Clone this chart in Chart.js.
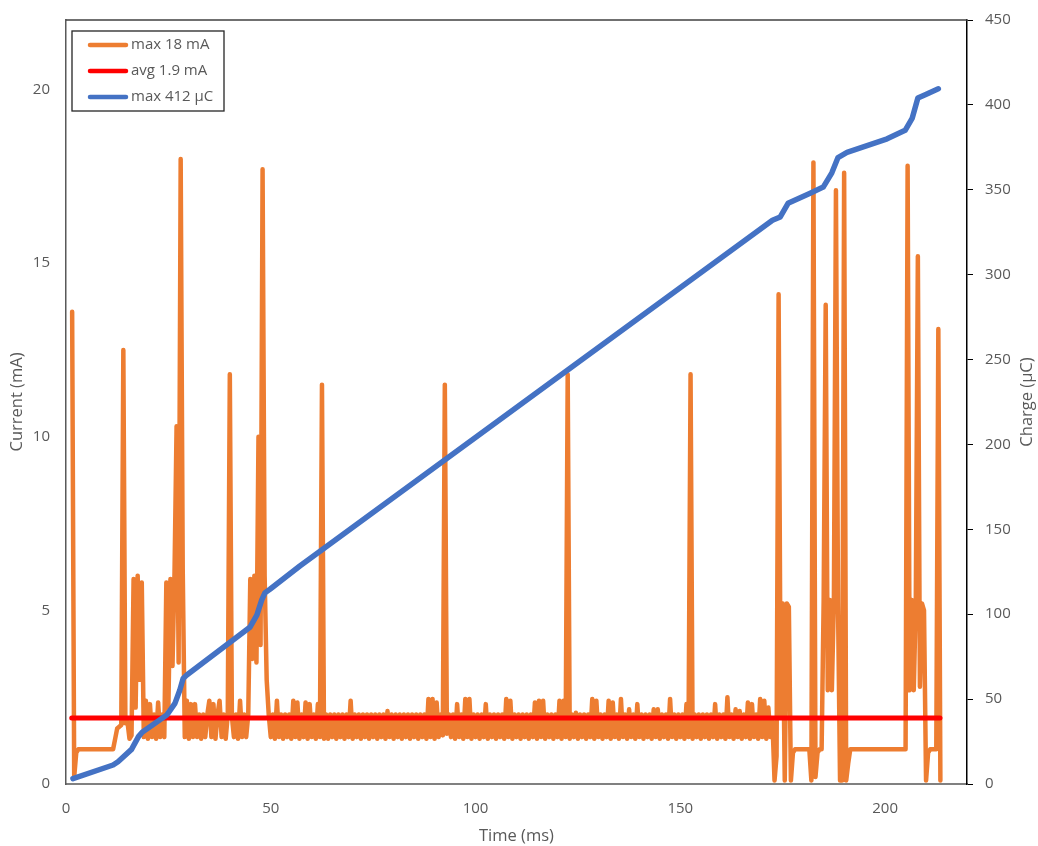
<!DOCTYPE html>
<html>
<head>
<meta charset="utf-8">
<script src="https://cdn.jsdelivr.net/npm/chart.js@4/dist/chart.umd.min.js"></script>
<style>
  html, body { margin: 0; padding: 0; background: #fff; }
  #wrap { width: 1038px; height: 846px; }
</style>
</head>
<body>
<div id="wrap"><canvas id="chart" width="1038" height="846"></canvas></div>
<script>
// current trace (mA), one sample every 0.5 ms starting at 1.5 ms
var sampleStart = 1.5;
var sampleStep = 0.5;
var current = [
    13.6, 0.2, 0.9, 1.0, 1.0, 1.0, 1.0, 1.0, 1.0, 1.0,        // 1.5
    1.0, 1.0, 1.0, 1.0, 1.0, 1.0, 1.0, 1.0, 1.0, 1.0,         // 6.5
    1.0, 1.3, 1.6, 1.65, 1.7, 12.5, 1.75, 1.8, 1.3, 1.4,      // 11.5
    5.9, 2.2, 6.0, 3.0, 5.8, 1.35, 2.4, 1.3, 2.3, 1.35,       // 16.5
    2.0, 1.3, 2.35, 1.35, 2.0, 1.35, 5.8, 2.2, 5.9, 3.4,      // 21.5
    6.1, 10.3, 3.5, 18.0, 6.2, 1.35, 2.4, 1.3, 2.3, 1.35,     // 26.5
    2.3, 1.35, 2.0, 1.3, 2.0, 1.35, 2.0, 2.4, 1.35, 2.3,      // 31.5
    1.3, 2.0, 2.4, 1.35, 2.0, 1.3, 2.0, 11.8, 1.95, 1.35,     // 36.5
    2.0, 1.3, 2.4, 1.35, 2.0, 1.35, 2.0, 5.9, 3.6, 6.0,       // 41.5
    3.5, 10.0, 4.0, 17.7, 6.0, 3.0, 2.0, 1.35, 2.0, 1.3,      // 46.5
    2.4, 1.35, 2.0, 1.3, 2.0, 1.35, 2.0, 1.3, 2.4, 1.35,      // 51.5
    2.35, 1.3, 2.0, 1.35, 2.35, 1.3, 2.3, 1.35, 2.0, 1.3,     // 56.5
    2.3, 1.35, 11.5, 1.3, 2.0, 1.3, 2.0, 1.35, 2.0, 1.3,      // 61.5
    2.0, 1.35, 2.0, 1.3, 2.0, 1.35, 2.4, 1.3, 2.0, 1.35,      // 66.5
    2.0, 1.3, 2.0, 1.35, 2.0, 1.3, 2.0, 1.35, 2.0, 1.3,       // 71.5
    2.0, 1.35, 2.0, 1.3, 2.1, 1.35, 2.0, 1.3, 2.0, 1.35,      // 76.5
    2.0, 1.3, 2.0, 1.35, 2.0, 1.3, 2.0, 1.35, 2.0, 1.3,       // 81.5
    2.0, 1.35, 2.0, 1.3, 2.45, 1.35, 2.45, 1.3, 2.35, 1.35,   // 86.5
    2.0, 1.4, 11.5, 1.45, 2.0, 1.35, 2.0, 1.3, 2.3, 1.35,     // 91.5
    2.0, 1.3, 2.45, 1.35, 2.45, 1.3, 2.0, 1.35, 2.0, 1.3,     // 96.5
    2.0, 1.35, 2.3, 1.3, 2.0, 1.35, 2.0, 1.3, 2.0, 1.35,      // 101.5
    2.0, 1.3, 2.45, 1.35, 2.4, 1.3, 2.0, 1.35, 2.0, 1.3,      // 106.5
    2.0, 1.35, 2.0, 1.3, 2.0, 1.35, 2.35, 1.3, 2.4, 1.35,     // 111.5
    2.4, 1.3, 2.0, 1.35, 2.0, 1.3, 2.0, 1.35, 2.4, 1.3,       // 116.5
    2.4, 1.35, 11.8, 1.3, 2.0, 1.35, 2.05, 1.3, 2.0, 1.35,    // 121.5
    2.0, 1.3, 2.0, 1.35, 2.45, 1.3, 2.4, 1.35, 2.0, 1.3,      // 126.5
    2.0, 1.35, 2.4, 1.3, 2.35, 1.35, 2.0, 1.3, 2.45, 1.35,    // 131.5
    2.0, 1.3, 2.15, 1.35, 2.0, 1.3, 2.3, 1.35, 2.0, 1.3,      // 136.5
    2.0, 1.35, 2.0, 1.3, 2.15, 1.35, 2.15, 1.3, 2.0, 1.35,    // 141.5
    2.0, 1.3, 2.45, 1.35, 2.0, 1.3, 2.0, 1.35, 2.0, 1.3,      // 146.5
    2.3, 1.35, 11.8, 1.3, 2.0, 1.35, 2.0, 1.3, 2.0, 1.35,     // 151.5
    2.0, 1.3, 2.0, 1.35, 2.3, 1.3, 2.0, 1.35, 2.0, 1.3,       // 156.5
    2.5, 1.35, 2.0, 1.3, 2.15, 1.35, 2.1, 1.3, 2.0, 1.35,     // 161.5
    2.35, 1.3, 2.3, 1.35, 2.0, 1.3, 2.45, 1.35, 2.4, 1.3,     // 166.5
    2.2, 1.35, 1.8, 0.1, 0.8, 14.1, 2.0, 5.2, 0.1, 5.2,       // 171.5
    5.1, 0.1, 0.9, 1.0, 1.0, 1.0, 1.0, 1.0, 1.0, 1.0,         // 176.5
    1.0, 0.1, 17.9, 0.2, 0.9, 1.0, 1.0, 5.3, 13.8, 2.7,       // 181.5
    5.3, 2.7, 5.3, 17.1, 5.2, 0.1, 0.1, 17.6, 0.1, 0.6,       // 186.5
    1.0, 1.0, 1.0, 1.0, 1.0, 1.0, 1.0, 1.0, 1.0, 1.0,         // 191.5
    1.0, 1.0, 1.0, 1.0, 1.0, 1.0, 1.0, 1.0, 1.0, 1.0,         // 196.5
    1.0, 1.0, 1.0, 1.0, 1.0, 1.0, 1.0, 1.0, 17.8, 2.7,        // 201.5
    5.3, 2.7, 5.3, 15.2, 2.8, 5.2, 5.0, 0.1, 0.9, 1.0,        // 206.5
    1.0, 1.0, 1.0, 13.1, 0.1                                  // 211.5
];

// accumulated charge (uC)
var chargeTime = [1.7, 11.5, 12.7, 16.0, 17.7, 18.6, 24.6, 26.6, 27.8, 28.6, 29.5, 44.9, 46.6, 47.8, 48.6, 49.8,
    57.1, 122.0, 172.5, 174.4, 176.3, 181.7, 184.9, 187.0, 188.5, 190.7, 200.5, 204.9, 206.6, 208.0, 209.8, 213.0];
var charge = [3.2, 11.2, 13.1, 20.4, 27.9, 30.5, 40.6, 47.5, 55.4, 62.2, 64.2, 92.3, 99.5, 108.4, 112.7, 114.7,
    128.4, 243, 332, 334, 342, 348, 351.6, 360, 369, 372, 380, 385, 392, 404, 406, 409.5];

// average current
var avgTime = [1.4, 213.4];
var avgCurrent = [1.9, 1.9];

var seriesLabels = ['max 18 mA', 'avg 1.9 mA', 'max 412 µC'];
var timeTicks = [0, 50, 100, 150, 200];
var currentTicks = [0, 5, 10, 15, 20];
var chargeTicks = [0, 50, 100, 150, 200, 250, 300, 350, 400, 450];

var textColor = '#595959';
Chart.defaults.font.family = "'Open Sans', sans-serif";
Chart.defaults.color = textColor;

function fixedTicks(values) {
    return function (scale) {
        scale.ticks = values.map(function (v) { return { value: v }; });
    };
}

// fixed axis width, no extra label padding above/below the plot
function fixedWidth(w) {
    return function (scale) {
        scale.width = w;
        scale.paddingTop = 0;
        scale.paddingBottom = 0;
    };
}

var currentPoints = current.map(function (v, i) {
    return { x: sampleStart + i * sampleStep, y: v };
});
var chargePoints = chargeTime.map(function (t, i) {
    return { x: t, y: charge[i] };
});
var avgPoints = avgTime.map(function (t, i) {
    return { x: t, y: avgCurrent[i] };
});

// excel style legend box, top frame line and right axis title
var decor = {
    id: 'decor',
    afterDraw: function (chart) {
        var ctx = chart.ctx;
        var area = chart.chartArea;
        ctx.save();
        ctx.strokeStyle = '#404040';
        ctx.lineWidth = 1.5;
        ctx.beginPath();
        ctx.moveTo(area.left, area.top);
        ctx.lineTo(area.right, area.top);
        ctx.stroke();

        ctx.fillStyle = textColor;
        ctx.font = "16.5px 'Open Sans'";
        ctx.textAlign = 'center';
        ctx.textBaseline = 'middle';
        ctx.translate(1027, (area.top + area.bottom) / 2);
        ctx.rotate(-Math.PI / 2);
        ctx.fillText('Charge (µC)', 0, 0);
        ctx.restore();

        var bx = area.left + 6, by = area.top + 11;
        ctx.save();
        ctx.fillStyle = '#fff';
        ctx.fillRect(bx, by, 152, 80);
        ctx.strokeStyle = '#262626';
        ctx.lineWidth = 1.3;
        ctx.strokeRect(bx, by, 152, 80);
        ctx.font = "15px 'Open Sans'";
        ctx.textAlign = 'left';
        ctx.textBaseline = 'middle';
        ctx.lineCap = 'round';
        chart.data.datasets.forEach(function (ds, i) {
            var yy = by + 14 + i * 26;
            ctx.strokeStyle = ds.borderColor;
            ctx.lineWidth = 4.5;
            ctx.beginPath();
            ctx.moveTo(bx + 18, yy);
            ctx.lineTo(bx + 54, yy);
            ctx.stroke();
            ctx.fillStyle = textColor;
            ctx.fillText(ds.label, bx + 59, yy);
        });
        ctx.restore();
    }
};

new Chart(document.getElementById('chart'), {
    type: 'line',
    data: {
        datasets: [{
            label: seriesLabels[0],
            data: currentPoints,
            yAxisID: 'y',
            borderColor: '#ED7D31',
            backgroundColor: '#ED7D31',
            borderWidth: 4.5,
            order: 3
        }, {
            label: seriesLabels[1],
            data: avgPoints,
            yAxisID: 'y',
            borderColor: '#FF0000',
            backgroundColor: '#FF0000',
            borderWidth: 5,
            order: 2
        }, {
            label: seriesLabels[2],
            data: chargePoints,
            yAxisID: 'y1',
            borderColor: '#4472C4',
            backgroundColor: '#4472C4',
            borderWidth: 5.5,
            order: 1
        }]
    },
    options: {
        responsive: false,
        animation: false,
        devicePixelRatio: 1,
        layout: { padding: { top: 20, left: 0, right: 0, bottom: 0 } },
        elements: {
            point: { radius: 0 },
            line: { tension: 0, borderCapStyle: 'round', borderJoinStyle: 'round' }
        },
        plugins: {
            legend: { display: false },
            tooltip: { enabled: false }
        },
        scales: {
            x: {
                type: 'linear',
                min: 0,
                max: 220,
                afterBuildTicks: fixedTicks(timeTicks),
                afterFit: function (scale) { scale.height = 62; },
                grid: { display: false, drawTicks: false },
                border: { display: true, color: '#808080', width: 2 },
                ticks: { padding: 16, font: { size: 15 } },
                title: { display: true, text: 'Time (ms)', font: { size: 16.5 }, padding: { top: 0, bottom: 0 } }
            },
            y: {
                type: 'linear',
                position: 'left',
                min: 0,
                max: 22,
                afterBuildTicks: fixedTicks(currentTicks),
                afterFit: fixedWidth(66),
                grid: { display: false, drawTicks: false },
                border: { display: true, color: '#595959', width: 1.5 },
                ticks: { padding: 16, font: { size: 15 } },
                title: { display: true, text: 'Current (mA)', font: { size: 16.5 }, padding: { top: 7, bottom: 0 } }
            },
            y1: {
                type: 'linear',
                position: 'right',
                min: 0,
                max: 450,
                afterBuildTicks: fixedTicks(chargeTicks),
                afterFit: fixedWidth(71),
                grid: { display: true, drawOnChartArea: false, drawTicks: true, tickLength: 6, color: '#000', lineWidth: 1 },
                border: { display: true, color: '#000', width: 1.5 },
                ticks: { padding: 12, font: { size: 15 } }
            }
        }
    },
    plugins: [decor]
});
</script>
</body>
</html>
